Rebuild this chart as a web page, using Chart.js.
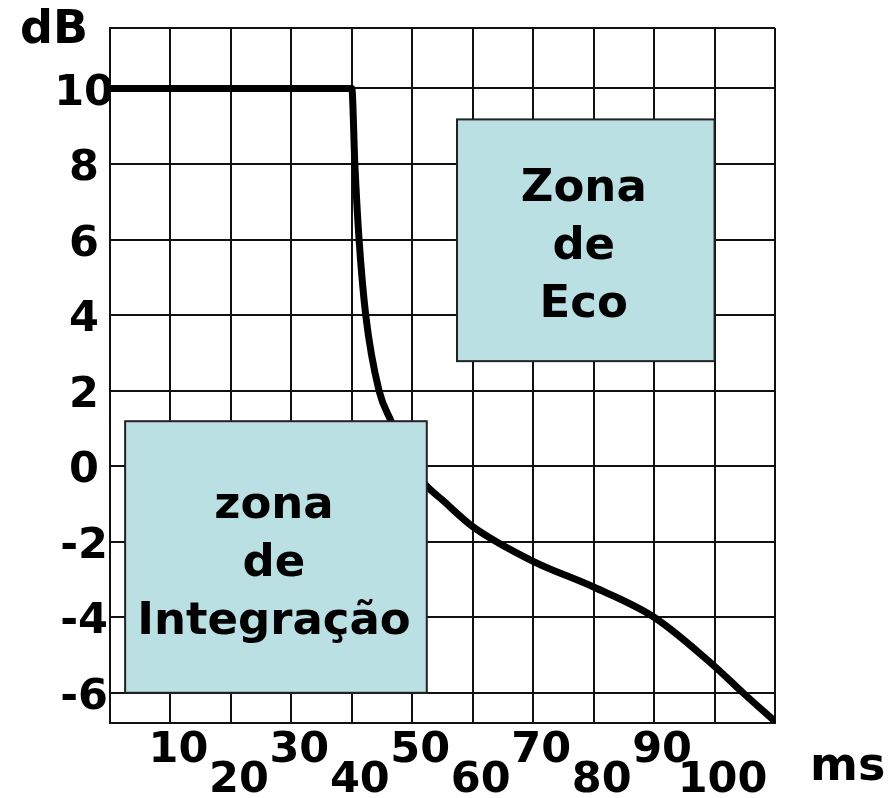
<!DOCTYPE html>
<html>
<head>
<meta charset="utf-8">
<script src="https://cdn.jsdelivr.net/npm/chart.js@4/dist/chart.umd.min.js"></script>
<style>
  body { margin: 0; background: #fff; }
</style>
</head>
<body>
<canvas id="myChart" width="896" height="798"></canvas>
<script>
// curve (ms -> dB)
let msValues = [0, 40, 40.5, 41.2, 42.3, 44.5, 46.5, 48, 50, 52.4, 55, 60, 70, 80, 90, 100, 104.7, 110];
let dbValues = [10, 10, 8, 6, 4, 2, 1.19, 0.62, -0.05, -0.53, -0.9, -1.6, -2.52, -3.2, -4.0, -5.3, -6.0, -6.76];

let xLabels = [10, 20, 30, 40, 50, 60, 70, 80, 90, 100];
let yLabels = [-6, -4, -2, 0, 2, 4, 6, 8, 10];
let xRange = [0, 110];
let yRange = [-6.8, 11.6];

// zones: [msFrom, msTo, dbTop, dbBottom]
let ecoZone = [57.4, 100, 9.18, 2.78];
let ecoText = ["Zona", "de", "Eco"];
let intZone = [2.5, 52.4, 1.19, -6];
let intText = ["zona", "de", "Integração"];

const FONT = '"DejaVu Sans", Verdana, sans-serif';

const zonesPlugin = {
  id: "zones",
  afterDatasetsDraw(chart) {
    const ctx = chart.ctx;
    const xs = chart.scales.x;
    const ys = chart.scales.y;
    [[ecoZone, ecoText], [intZone, intText]].forEach(([z, lines]) => {
      const l = xs.getPixelForValue(z[0]);
      const r = xs.getPixelForValue(z[1]);
      const t = ys.getPixelForValue(z[2]);
      const b = ys.getPixelForValue(z[3]);
      ctx.save();
      ctx.fillStyle = "#bbe0e3";
      ctx.fillRect(l, t, r - l, b - t);
      ctx.strokeStyle = "#222";
      ctx.lineWidth = 2;
      ctx.strokeRect(l, t, r - l, b - t);
      ctx.fillStyle = "#000";
      ctx.font = "bold 45px " + FONT;
      ctx.textAlign = "center";
      ctx.textBaseline = "alphabetic";
      const cx = (l + r) / 2 - 2;
      const cy = (t + b) / 2;
      lines.forEach((s, i) => ctx.fillText(s, cx, cy + 19 + (i - 1) * 58));
      ctx.restore();
    });
    // unit labels
    const area = chart.chartArea;
    ctx.save();
    ctx.fillStyle = "#000";
    ctx.font = "bold 46px " + FONT;
    ctx.textAlign = "left";
    ctx.textBaseline = "alphabetic";
    ctx.fillText("dB", area.left - 90, area.top + 15);
    ctx.fillText("ms", area.right + 35, area.bottom + 57);
    ctx.restore();
  }
};

new Chart(document.getElementById("myChart"), {
  type: "line",
  data: {
    datasets: [
      {
        data: msValues.map((x, i) => ({ x: x, y: dbValues[i] })),
        borderColor: "#000",
        borderWidth: 7,
        pointRadius: 0,
        cubicInterpolationMode: "monotone",
        fill: false
      }
    ]
  },
  options: {
    responsive: false,
    animation: false,
    layout: { padding: { top: 28, right: 121, left: 0, bottom: 0 } },
    plugins: { legend: { display: false }, tooltip: { enabled: false } },
    scales: {
      x: {
        type: "linear",
        min: xRange[0],
        max: xRange[1],
        afterBuildTicks: (s) => {
          s.ticks = [xRange[0], ...xLabels, xRange[1]].map((v) => ({ value: v }));
        },
        afterFit: (s) => { s.height = 75; },
        grid: { color: "#111", lineWidth: 2, drawTicks: false },
        border: { color: "#111", width: 2 },
        ticks: {
          color: "#000",
          font: { family: FONT, size: 43, weight: "bold", lineHeight: 0.7 },
          padding: 13,
          labelOffset: 8,
          autoSkip: false,
          minRotation: 0,
          maxRotation: 0,
          callback: (v) => {
            const i = xLabels.indexOf(v);
            if (i < 0) return "";
            return i % 2 === 0 ? [String(v), ""] : ["", String(v)];
          }
        }
      },
      y: {
        type: "linear",
        min: yRange[0],
        max: yRange[1],
        afterBuildTicks: (s) => {
          s.ticks = [yRange[0], ...yLabels, yRange[1]].map((v) => ({ value: v }));
        },
        afterFit: (s) => { s.width = 110; },
        grid: { color: "#111", lineWidth: 2, drawTicks: false },
        border: { color: "#111", width: 2 },
        ticks: {
          color: "#000",
          font: { family: FONT, size: 43, weight: "bold" },
          crossAlign: "center",
          padding: -4,
          labelOffset: 5,
          autoSkip: false,
          callback: (v) => (yLabels.includes(v) ? String(v) : "")
        }
      }
    }
  },
  plugins: [zonesPlugin]
});
</script>
</body>
</html>
